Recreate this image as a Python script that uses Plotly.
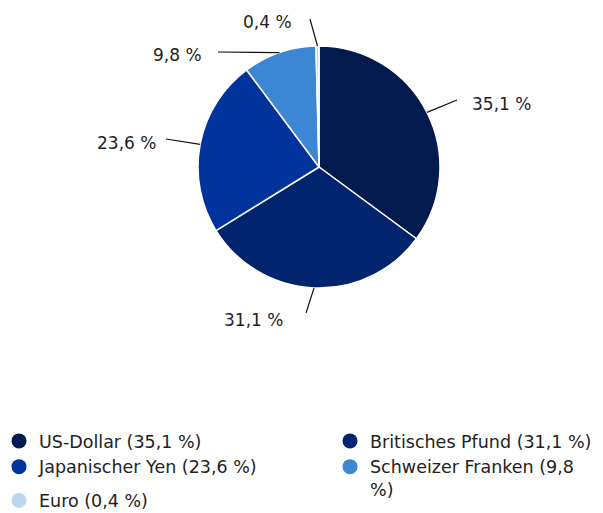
import math
import plotly.graph_objects as go

# ---- data ----
categories = ["US-Dollar", "Britisches Pfund", "Japanischer Yen", "Schweizer Franken", "Euro"]
values = [35.1, 31.1, 23.6, 9.8, 0.4]
slice_labels = ["35,1 %", "31,1 %", "23,6 %", "9,8 %", "0,4 %"]
legend_labels = ["US-Dollar (35,1 %)", "Britisches Pfund (31,1 %)", "Japanischer Yen (23,6 %)",
                 "Schweizer Franken (9,8<br>%)", "Euro (0,4 %)"]
colors = ["#031a4f", "#00246e", "#00339c", "#3d86d3", "#bcd7f0"]

# ---- layout constants (screen pixels of the 603x513 window) ----
WIN_W, WIN_H = 603, 513
OFF = 8                      # default page body margin
W, H = WIN_W - OFF, WIN_H - OFF
CX, CY, R = 319, 167, 121
FONT = "DejaVu Sans"
FS_LABEL = 17
FS_LEGEND = 17.5
TEXT_COLOR = "#222222"
LEG_SYM_OFF = 19             # legend symbol centre offset from legend x
conn_end = [(457, 100), (306, 313), (166, 139), (218, 52), (310, 19)]
label_pos = [(470, 104, "left"), (285, 320, "right"), (158, 143, "right"),
             (204, 55, "right"), (294, 22, "right")]
legend_of = ["legend", "legend2", "legend", "legend2", "legend"]
group_of = ["a", "b", "a", "b", "c"]


def px(x):
    return (x - OFF) / W


def py(y):
    return 1 - (y - OFF) / H


fig = go.Figure()
fig.add_trace(go.Pie(
    labels=categories, values=values, sort=False, direction="clockwise", rotation=0,
    marker=dict(colors=colors, line=dict(color="white", width=1.5)),
    textinfo="none", hoverinfo="label+percent", showlegend=False,
    domain=dict(x=[px(CX - R), px(CX + R)], y=[py(CY + R), py(CY - R)]),
))

for name, col, lg, grp in zip(legend_labels, colors, legend_of, group_of):
    fig.add_trace(go.Scatter(x=[None], y=[None], mode="markers", name=name,
                             legend=lg, legendgroup=grp,
                             marker=dict(symbol="circle", size=15, color=col),
                             showlegend=True, hoverinfo="skip"))

total = sum(values)
cum = 0.0
shapes, annotations = [], []
for i, v in enumerate(values):
    mid = (cum + v / 2) / total * 2 * math.pi
    cum += v
    sx = CX + R * math.sin(mid)
    sy = CY - R * math.cos(mid)
    ex, ey = conn_end[i]
    shapes.append(dict(type="line", xref="paper", yref="paper",
                       x0=px(sx), y0=py(sy), x1=px(ex), y1=py(ey),
                       line=dict(color="#111111", width=1.2)))
    lx, ly, anchor = label_pos[i]
    annotations.append(dict(xref="paper", yref="paper", x=px(lx), y=py(ly),
                            xanchor=anchor, yanchor="middle", showarrow=False,
                            text=slice_labels[i],
                            font=dict(family=FONT, size=FS_LABEL, color=TEXT_COLOR)))

legend_common = dict(orientation="v", yanchor="top", xanchor="left", traceorder="grouped",
                     font=dict(family=FONT, size=FS_LEGEND, color=TEXT_COLOR),
                     itemwidth=30, valign="top", bgcolor="rgba(0,0,0,0)")

fig.update_layout(
    width=W, height=H, margin=dict(l=0, r=0, t=0, b=0, autoexpand=False),
    paper_bgcolor="white", plot_bgcolor="white",
    xaxis=dict(visible=False), yaxis=dict(visible=False),
    shapes=shapes, annotations=annotations,
    legend=dict(x=px(18 - LEG_SYM_OFF), y=py(423), tracegroupgap=8, **legend_common),
    legend2=dict(x=px(349 - LEG_SYM_OFF), y=py(423), tracegroupgap=0, **legend_common),
    font=dict(family=FONT, color=TEXT_COLOR),
)

fig.write_html("out.html")
